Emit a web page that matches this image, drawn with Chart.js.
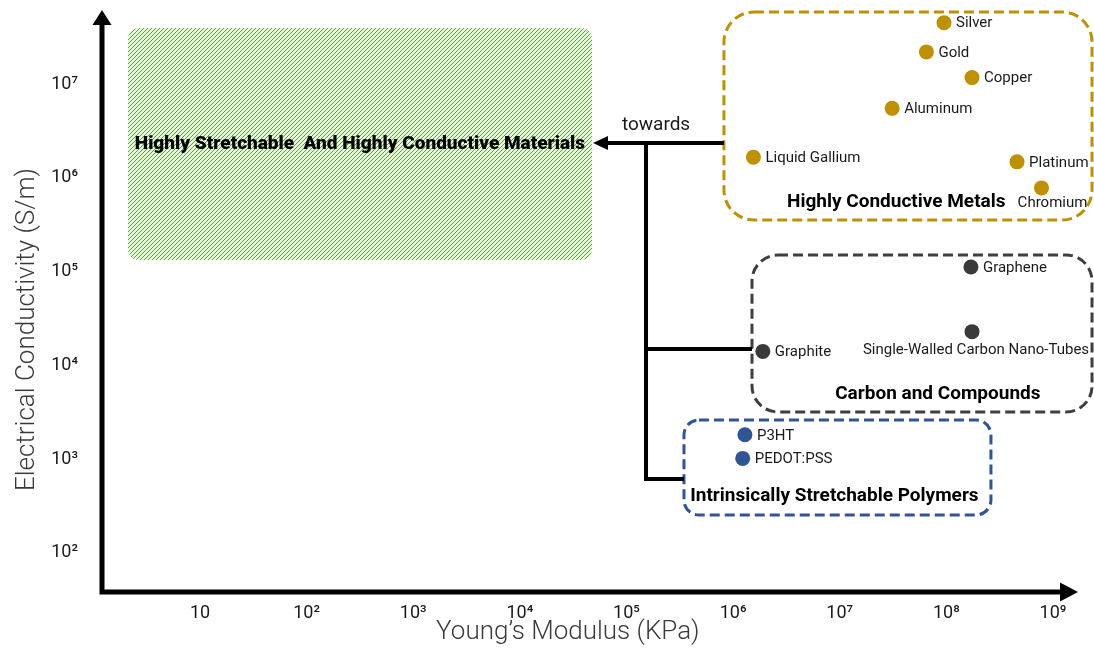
<!DOCTYPE html>
<html><head><meta charset="utf-8">
<script src="https://cdn.jsdelivr.net/npm/chart.js@4.4.1/dist/chart.umd.min.js"></script>
<style>html,body{margin:0;padding:0;background:#fff;overflow:hidden}</style>
</head><body>
<canvas id="c" width="1094" height="649" style="width:1094px;height:649px;display:block"></canvas>
<script>
// ---------- data ----------
const metalNames = ['Silver','Gold','Copper','Aluminum','Liquid Gallium','Platinum','Chromium'];
const metalModulus = [9.5e7, 6.5e7, 1.74e8, 3.1e7, 1.55e6, 4.6e8, 7.8e8];      // KPa
const metalConductivity = [4.5e7, 2.2e7, 1.17e7, 5.5e6, 1.66e6, 1.48e6, 7.8e5]; // S/m

const carbonNames = ['Graphene','Single-Walled Carbon Nano-Tubes','Graphite'];
const carbonModulus = [1.7e8, 1.74e8, 1.9e6];
const carbonConductivity = [1.12e5, 2.29e4, 1.41e4];

const polymerNames = ['P3HT','PEDOT:PSS'];
const polymerModulus = [1.29e6, 1.23e6];
const polymerConductivity = [1.82e3, 1.02e3];

const xTickValues = [1e1,1e2,1e3,1e4,1e5,1e6,1e7,1e8,1e9];
const yTickValues = [1e2,1e3,1e4,1e5,1e6,1e7];

const groupTitles = ['Highly Conductive Metals','Carbon and Compounds','Intrinsically Stretchable Polymers'];
const targetTitle = 'Highly Stretchable  And Highly Conductive Materials';

// ---------- annotation layout (in log10 data units) ----------
const labelPlacement = {
  'Chromium': 'below', 'Single-Walled Carbon Nano-Tubes': 'below'
};
const regionTarget = {x0:0.325, x1:4.676, y0:5.124, y1:7.597, r:11};
const groupBoxes = [
  {x0:5.914, x1:9.366, y0:5.55,  y1:7.768, r:30, color:'#BF9000', tx:7.53, ty:5.742},
  {x0:6.177, x1:9.366, y0:3.503, y1:5.177, r:26, color:'#3F3F3F', tx:7.92, ty:3.695},
  {x0:5.539, x1:8.418, y0:2.405, y1:3.418, r:15, color:'#2F5597', tx:6.95, ty:2.608}
];
const connector = {tipX:4.686, topY:6.371, trunkX:5.183, midY:4.175, lowY:2.789, towardsX:5.277, towardsY:6.563};
const targetText = {x:2.50, y:6.36};

const COLORS = ['#BF9000','#3A3A3A','#2F5597'];

const SUP = {'0':'\u2070','1':'\u00B9','2':'\u00B2','3':'\u00B3','4':'\u2074','5':'\u2075','6':'\u2076','7':'\u2077','8':'\u2078','9':'\u2079'};
function powLabel(v){
  const e = Math.round(Math.log10(v));
  if (e === 1) return '10';
  return '10' + String(e).split('').map(c => SUP[c]).join('');
}
function pts(xs, ys){ return xs.map((x,i)=>({x:x, y:ys[i]})); }

// hatch pattern
const pc = document.createElement('canvas'); pc.width = 4; pc.height = 4;
const pctx = pc.getContext('2d');
pctx.fillStyle = '#EAF4E2'; pctx.fillRect(0,0,4,4);
pctx.strokeStyle = '#46A016'; pctx.lineWidth = 0.9;
pctx.beginPath();
pctx.moveTo(0,4); pctx.lineTo(4,0);
pctx.moveTo(-1,1); pctx.lineTo(1,-1);
pctx.moveTo(3,5); pctx.lineTo(5,3);
pctx.stroke();

function rrect(ctx, x0, y0, x1, y1, r){
  const x = Math.min(x0,x1), y = Math.min(y0,y1), w = Math.abs(x1-x0), h = Math.abs(y1-y0);
  ctx.beginPath();
  ctx.moveTo(x+r, y);
  ctx.lineTo(x+w-r, y); ctx.arcTo(x+w, y, x+w, y+r, r);
  ctx.lineTo(x+w, y+h-r); ctx.arcTo(x+w, y+h, x+w-r, y+h, r);
  ctx.lineTo(x+r, y+h); ctx.arcTo(x, y+h, x, y+h-r, r);
  ctx.lineTo(x, y+r); ctx.arcTo(x, y, x+r, y, r);
  ctx.closePath();
}

const decor = {
  id: 'decor',
  beforeDatasetsDraw(chart){
    const ctx = chart.ctx, xs = chart.scales.x, ys = chart.scales.y, a = chart.chartArea;
    const X = v => xs.getPixelForValue(Math.pow(10, v));
    const Y = v => ys.getPixelForValue(Math.pow(10, v));
    ctx.save();
    // target region (hatched)
    const pat = ctx.createPattern(pc, 'repeat');
    ctx.fillStyle = pat;
    rrect(ctx, X(regionTarget.x0), Y(regionTarget.y1), X(regionTarget.x1), Y(regionTarget.y0), regionTarget.r);
    ctx.fill();
    // dashed group boxes
    ctx.lineWidth = 3; ctx.setLineDash([10,5]);
    groupBoxes.forEach(b => {
      ctx.strokeStyle = b.color;
      rrect(ctx, X(b.x0), Y(b.y1), X(b.x1), Y(b.y0), b.r);
      ctx.stroke();
    });
    ctx.setLineDash([]);
    // connectors
    ctx.strokeStyle = '#000'; ctx.fillStyle = '#000'; ctx.lineWidth = 4; ctx.lineCap = 'butt';
    const tx = X(connector.tipX), ty = Y(connector.topY), trunk = X(connector.trunkX);
    ctx.beginPath();
    ctx.moveTo(X(groupBoxes[0].x0), ty); ctx.lineTo(tx + 12, ty);
    ctx.moveTo(trunk, ty - 2); ctx.lineTo(trunk, Y(connector.lowY) + 2);
    ctx.moveTo(trunk, Y(connector.midY)); ctx.lineTo(X(groupBoxes[1].x0), Y(connector.midY));
    ctx.moveTo(trunk, Y(connector.lowY)); ctx.lineTo(X(groupBoxes[2].x0), Y(connector.lowY));
    ctx.stroke();
    ctx.beginPath();
    ctx.moveTo(tx, ty); ctx.lineTo(tx + 15, ty - 7); ctx.lineTo(tx + 15, ty + 7); ctx.closePath(); ctx.fill();
    // axes with arrows
    ctx.lineWidth = 5;
    ctx.beginPath();
    ctx.moveTo(a.left, a.top + 14); ctx.lineTo(a.left, a.bottom);
    ctx.lineTo(a.right - 14, a.bottom);
    ctx.stroke();
    ctx.beginPath();
    ctx.moveTo(a.left, a.top); ctx.lineTo(a.left - 9.5, a.top + 15); ctx.lineTo(a.left + 9.5, a.top + 15); ctx.closePath(); ctx.fill();
    ctx.beginPath();
    ctx.moveTo(a.right, a.bottom); ctx.lineTo(a.right - 18, a.bottom - 9.5); ctx.lineTo(a.right - 18, a.bottom + 9.5); ctx.closePath(); ctx.fill();
    ctx.restore();
  },
  afterDatasetsDraw(chart){
    const ctx = chart.ctx, xs = chart.scales.x, ys = chart.scales.y;
    const X = v => xs.getPixelForValue(Math.pow(10, v));
    const Y = v => ys.getPixelForValue(Math.pow(10, v));
    ctx.save();
    // point labels
    ctx.font = '15px Roboto'; ctx.fillStyle = '#1a1a1a'; ctx.textBaseline = 'middle';
    chart.data.datasets.forEach((ds, di) => {
      const meta = chart.getDatasetMeta(di);
      meta.data.forEach((el, i) => {
        const name = ds.names[i];
        if (labelPlacement[name] === 'below') {
          ctx.textAlign = 'center';
          const off = name === 'Chromium' ? 11 : 4;
          ctx.fillText(name, el.x + off, el.y + (name === 'Chromium' ? 15 : 19));
        } else {
          ctx.textAlign = 'left';
          ctx.fillText(name, el.x + 12, el.y + 1);
        }
      });
    });
    // group titles
    ctx.font = 'bold 19px Roboto'; ctx.fillStyle = '#000'; ctx.textAlign = 'center';
    groupBoxes.forEach((b, i) => ctx.fillText(groupTitles[i], X(b.tx), Y(b.ty)));
    // target title
    ctx.font = '900 19px Roboto';
    ctx.fillText(targetTitle, X(targetText.x), Y(targetText.y));
    // towards
    ctx.font = '19px Roboto'; ctx.fillStyle = '#1a1a1a';
    ctx.fillText('towards', X(connector.towardsX), Y(connector.towardsY));
    ctx.restore();
  }
};

new Chart(document.getElementById('c'), {
  type: 'scatter',
  data: {
    datasets: [
      {label:'Metals', names: metalNames, data: pts(metalModulus, metalConductivity), backgroundColor: COLORS[0]},
      {label:'Carbon', names: carbonNames, data: pts(carbonModulus, carbonConductivity), backgroundColor: COLORS[1]},
      {label:'Polymers', names: polymerNames, data: pts(polymerModulus, polymerConductivity), backgroundColor: COLORS[2]}
    ].map(d => Object.assign(d, {pointRadius:7.5, pointHoverRadius:7.5, borderWidth:0, clip:false}))
  },
  options: {
    responsive: false,
    animation: false,
    events: [],
    layout: {padding: {left:0, right:16, top:10, bottom:0}},
    plugins: {legend:{display:false}, tooltip:{enabled:false}},
    scales: {
      x: {
        type: 'logarithmic',
        min: Math.pow(10, 0.0809), max: Math.pow(10, 9.2345),
        border: {display:false},
        grid: {display:false, drawTicks:true, tickLength:12},
        afterBuildTicks: s => { s.ticks = xTickValues.map(v => ({value:v})); },
        afterFit: s => { s.height = 57; },
        ticks: {autoSkip:false, maxRotation:0, padding:0, color:'#1a1a1a',
                font:{family:'Roboto', size:18, weight:'normal', lineHeight:1.0}, callback: v => powLabel(v)},
        title: {display:true, text:'Young\u2019s Modulus (KPa)       ', color:'#3a3a3a',
                font:{family:'Roboto', size:26, weight:'300', lineHeight:1.2}, padding:{top:0, bottom:1}}
      },
      y: {
        type: 'logarithmic',
        min: Math.pow(10, 1.584), max: Math.pow(10, 7.789),
        border: {display:false},
        grid: {display:false, drawTicks:true, tickLength:24},
        afterBuildTicks: s => { s.ticks = yTickValues.map(v => ({value:v})); },
        afterFit: s => { s.width = 102; },
        ticks: {autoSkip:false, padding:0, color:'#1a1a1a',
                font:{family:'Roboto', size:18, weight:'normal', lineHeight:1.0}, callback: v => powLabel(v)},
        title: {display:true, text:'Electrical Conductivity (S/m)         ', color:'#3a3a3a',
                font:{family:'Roboto', size:26, weight:'300', lineHeight:1.2}, padding:{top:11.4, bottom:0}}
      }
    }
  },
  plugins: [decor]
});
</script>
</body></html>
